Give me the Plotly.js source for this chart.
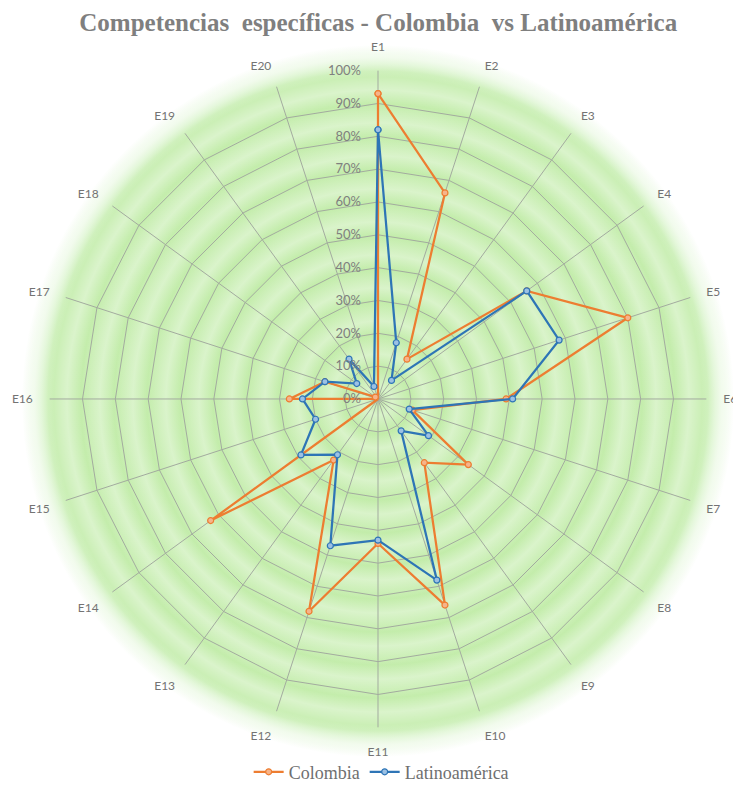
<!DOCTYPE html>
<html>
<head>
<meta charset="utf-8">
<script src="https://cdn.plot.ly/plotly-3.0.1.min.js"></script>
<style>
  html, body { margin: 0; padding: 0; background: #ffffff; }
  #chart {
    width: 733px; height: 791px;
    background:
      repeating-radial-gradient(circle at 378px 401px, rgba(255,255,255,0) 0px, rgba(255,255,255,0.38) 14px, rgba(255,255,255,0) 33px),
      radial-gradient(circle at 378px 401px, #c2eca9 0px, #c4edac 324px, rgba(200,239,180,0.6) 337px, rgba(220,245,205,0) 356px);
  }
</style>
</head>
<body>
<div id="chart"></div>
<script>
const categories = ["E1","E2","E3","E4","E5","E6","E7","E8","E9","E10","E11","E12","E13","E14","E15","E16","E17","E18","E19","E20"];
const colombia = [93, 66, 15, 56, 80, 39, 11, 34, 24, 66, 44, 68, 23, 63, 0, 27, 17, 1, 0, 0];
const latinoamerica = [82, 18, 7, 56, 58, 41, 10, 19, 12, 58, 43, 47, 21, 29, 20, 23, 17, 8, 15, 4];
const radialTicks = [0,10,20,30,40,50,60,70,80,90,100];
const radialTickText = radialTicks.map(v => v + "%");

function closed(arr) { return arr.concat([arr[0]]); }

const traces = [
  {
    type: "scatterpolar", mode: "lines+markers", name: "Colombia",
    r: closed(colombia), theta: closed(categories),
    line: { color: "#ED7D31", width: 2.25 },
    marker: { symbol: "circle", size: 6, color: "#f6b48a", line: { color: "#ED7D31", width: 1.2 } },
    cliponaxis: false
  },
  {
    type: "scatterpolar", mode: "lines+markers", name: "Latinoamérica",
    r: closed(latinoamerica), theta: closed(categories),
    line: { color: "#2E75B6", width: 2.25 },
    marker: { symbol: "circle", size: 6, color: "#9cc1e4", line: { color: "#2E75B6", width: 1.2 } },
    cliponaxis: false
  }
];

const layout = {
  width: 733, height: 791,
  margin: { l: 0, r: 0, t: 0, b: 0 },
  paper_bgcolor: "rgba(0,0,0,0)",
  plot_bgcolor: "rgba(0,0,0,0)",
  title: {
    text: "<b>Competencias  específicas - Colombia  vs Latinoamérica</b>",
    font: { family: "Liberation Serif, Times New Roman, serif", size: 25, color: "#7f7f7f" },
    x: 0.516, xanchor: "center", y: 1 - 22/791, yanchor: "middle"
  },
  showlegend: true,
  legend: {
    orientation: "h", x: 0.52, xanchor: "center", y: 1 - 776/791, yanchor: "middle",
    font: { family: "Liberation Serif, Times New Roman, serif", size: 18, color: "#6f6f6f" },
    bgcolor: "rgba(0,0,0,0)", itemwidth: 30
  },
  polar: {
    domain: { x: [48/733, 708/733], y: [1 - 731/791, 1 - 71/791] },
    bgcolor: "rgba(0,0,0,0)",
    gridshape: "linear",
    angularaxis: {
      direction: "clockwise", rotation: 90,
      type: "category", categoryarray: categories,
      showline: false,
      gridcolor: "#a3ab9f", gridwidth: 1,
      ticks: "outside", ticklen: 14, tickcolor: "rgba(0,0,0,0)",
      tickfont: { family: "Lato, Noto Sans, sans-serif", size: 12, color: "#737373" }
    },
    radialaxis: {
      range: [0, 100], angle: 90, tickangle: 90, side: "counterclockwise",
      tickvals: radialTicks, ticktext: radialTickText,
      showline: false, ticks: "outside", ticklen: 12, tickcolor: "rgba(0,0,0,0)",
      gridcolor: "#a3ab9f", gridwidth: 1,
      tickfont: { family: "Lato, Noto Sans, sans-serif", size: 13, color: "#7f7f7f" }
    }
  }
};

Plotly.newPlot("chart", traces, layout, { displayModeBar: false, staticPlot: true });
</script>
</body>
</html>
